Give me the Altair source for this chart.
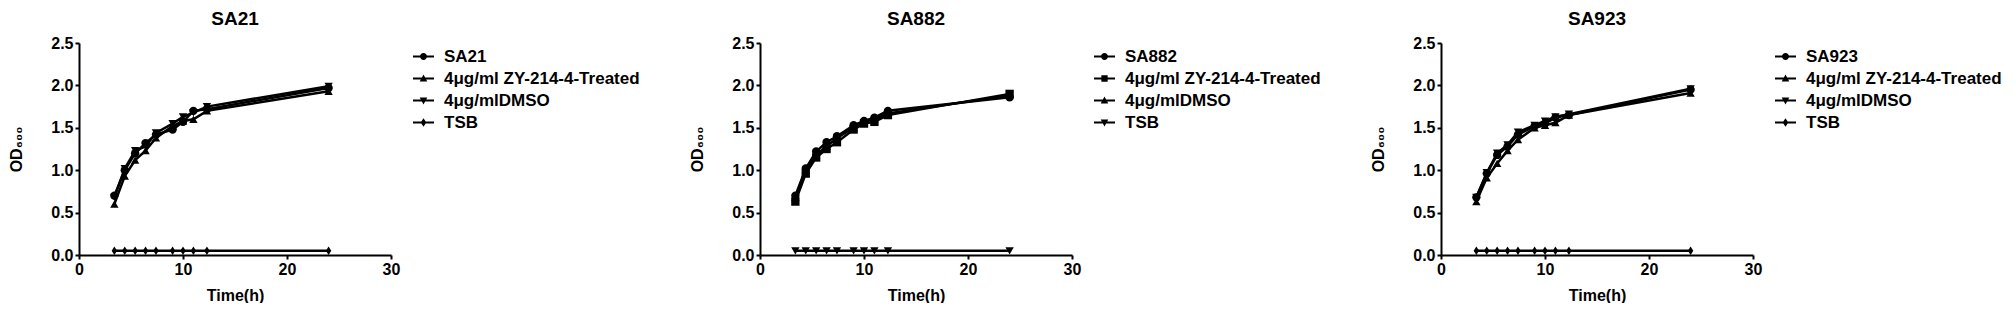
import altair as alt
import pandas as pd

TIME = [3.4, 4.4, 5.4, 6.4, 7.4, 9, 10, 11, 12.3, 24]

PANEL_TITLES = ["SA21", "SA882", "SA923"]
SERIES_NAMES = [
    ["SA21", "4μg/ml ZY-214-4-Treated", "4μg/mlDMSO", "TSB"],
    ["SA882", "4μg/ml ZY-214-4-Treated", "4μg/mlDMSO", "TSB"],
    ["SA923", "4μg/ml ZY-214-4-Treated", "4μg/mlDMSO", "TSB"],
]

SA21_CTRL = [0.70, 1.00, 1.20, 1.32, 1.42, 1.48, 1.57, 1.70, 1.72, 1.97]
SA21_TREATED = [0.60, 0.93, 1.12, 1.23, 1.38, 1.52, 1.58, 1.60, 1.70, 1.93]
SA21_DMSO = [0.68, 1.02, 1.23, 1.28, 1.44, 1.55, 1.63, 1.68, 1.75, 1.99]
SA21_TSB = [0.05, 0.05, 0.05, 0.05, 0.05, 0.05, 0.05, 0.05, 0.05, 0.05]

SA882_CTRL = [0.70, 1.02, 1.22, 1.33, 1.40, 1.53, 1.58, 1.62, 1.70, 1.86]
SA882_TREATED = [0.63, 0.96, 1.15, 1.25, 1.33, 1.48, 1.55, 1.57, 1.65, 1.90]
SA882_DMSO = [0.68, 1.00, 1.18, 1.28, 1.38, 1.50, 1.57, 1.60, 1.67, 1.88]
SA882_TSB = [0.05, 0.05, 0.05, 0.05, 0.05, 0.05, 0.05, 0.05, 0.05, 0.05]

SA923_CTRL = [0.68, 0.96, 1.18, 1.28, 1.42, 1.52, 1.55, 1.62, 1.65, 1.95]
SA923_TREATED = [0.63, 0.91, 1.08, 1.23, 1.36, 1.50, 1.53, 1.56, 1.65, 1.91]
SA923_DMSO = [0.68, 0.97, 1.20, 1.30, 1.45, 1.53, 1.58, 1.63, 1.66, 1.96]
SA923_TSB = [0.05, 0.05, 0.05, 0.05, 0.05, 0.05, 0.05, 0.05, 0.05, 0.05]

PANEL_VALUES = [
    [SA21_CTRL, SA21_TREATED, SA21_DMSO, SA21_TSB],
    [SA882_CTRL, SA882_TREATED, SA882_DMSO, SA882_TSB],
    [SA923_CTRL, SA923_TREATED, SA923_DMSO, SA923_TSB],
]

# marker shapes for data points, and legend symbols (line + marker)
DIAMOND = "M0,-1L0.65,0L0,1L-0.65,0Z"
POINT_SHAPES = [
    ["circle", "triangle-up", "triangle-down", DIAMOND],
    ["circle", "square", "triangle-up", "triangle-down"],
    ["circle", "triangle-up", "triangle-down", DIAMOND],
]
BAR = "M-1,-0.1H1V0.1H-1Z"
LEG = {
    "circle": BAR + "M0.33,0A0.33,0.33,0,1,1,-0.33,0A0.33,0.33,0,1,1,0.33,0Z",
    "square": BAR + "M-0.3,-0.3H0.3V0.3H-0.3Z",
    "triangle-up": BAR + "M0,-0.38L0.36,0.28L-0.36,0.28Z",
    "triangle-down": BAR + "M0,0.38L-0.36,-0.28L0.36,-0.28Z",
    DIAMOND: BAR + "M0,-0.4L0.27,0L0,0.4L-0.27,0Z",
}

FONT = "Liberation Sans"
W, H = 312, 212


def panel(i):
    rows = []
    for name, vals in zip(SERIES_NAMES[i], PANEL_VALUES[i]):
        for t, v in zip(TIME, vals):
            rows.append({"t": t, "od": v, "series": name})
    df = pd.DataFrame(rows)

    x = alt.X("t:Q", scale=alt.Scale(domain=[0, 30]),
              axis=alt.Axis(values=[0, 10, 20, 30], title="Time(h)", labelFlush=False))
    y = alt.Y("od:Q", scale=alt.Scale(domain=[0, 2.5]),
              axis=alt.Axis(values=[0, 0.5, 1.0, 1.5, 2.0, 2.5], format=".1f", title="OD₆₀₀"))

    base = alt.Chart(df).encode(x=x, y=y)
    lines = base.mark_line(color="black", strokeWidth=2.5).encode(
        detail="series:N")
    pts = base.mark_point(filled=True, color="black", size=70, opacity=1).encode(
        shape=alt.Shape("series:N",
                        scale=alt.Scale(domain=SERIES_NAMES[i], range=POINT_SHAPES[i]),
                        legend=None))
    leg = base.mark_point(filled=True, color="black", size=441, opacity=0).encode(
        shape=alt.Shape("series:N",
                        scale=alt.Scale(domain=SERIES_NAMES[i],
                                        range=[LEG[s] for s in POINT_SHAPES[i]]),
                        legend=alt.Legend(title=None, orient="none", legendX=334, legendY=3,
                                          symbolOpacity=1, symbolFillColor="black",
                                          symbolStrokeWidth=0,
                                          symbolSize=441, labelOffset=10, rowPadding=3,
                                          labelFont=FONT, labelFontSize=17,
                                          labelFontWeight="bold", labelColor="black",
                                          labelLimit=400)))
    return alt.layer(lines, pts, leg).resolve_scale(shape="independent").properties(
        width=W, height=H,
        title=alt.TitleParams(PANEL_TITLES[i], font=FONT, fontSize=19, fontWeight="bold",
                              color="black", anchor="middle", offset=6),
    )


chart = alt.hconcat(panel(0), panel(1), panel(2), spacing=49).resolve_scale(
    shape="independent").resolve_legend(shape="independent").configure(
    padding={"top": 2, "left": 0, "right": 0, "bottom": 0}, background="white"
).configure_view(stroke=None).configure_axis(
    grid=False, domainColor="black", domainWidth=2, tickColor="black", tickWidth=2,
    tickSize=4, labelFont=FONT, labelFontSize=16, labelFontWeight="bold",
    labelColor="black", labelPadding=2, titleFont=FONT, titleFontSize=16,
    titleFontWeight="bold", titleColor="black"
).configure_axisY(titlePadding=26).configure_axisX(titlePadding=10)

chart.save("out.html", embed_options={"renderer": "svg", "actions": False})
